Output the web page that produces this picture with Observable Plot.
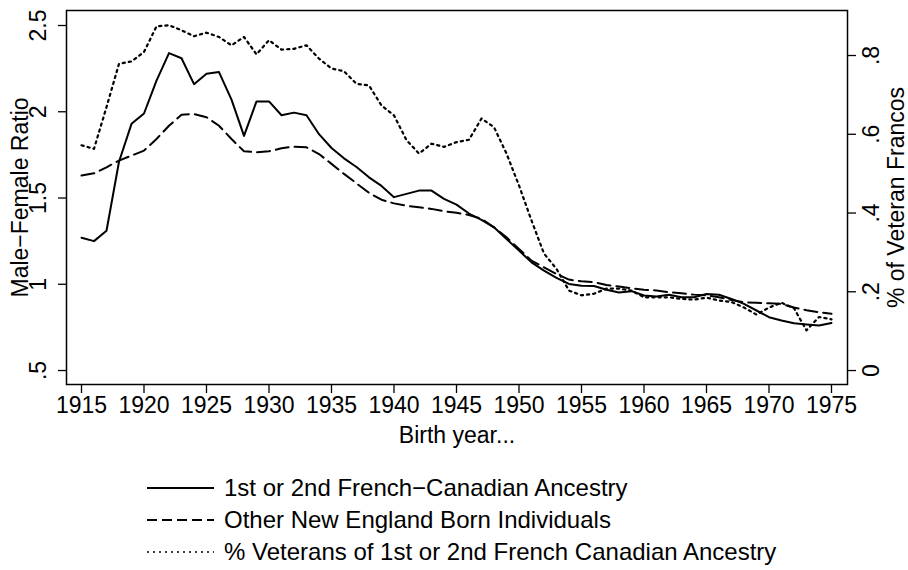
<!DOCTYPE html>
<html><head><meta charset="utf-8">
<script src="https://cdn.jsdelivr.net/npm/d3@7"></script>
<script src="https://cdn.jsdelivr.net/npm/@observablehq/plot@0.6"></script>
<style>
body{margin:0;background:#fff;font-family:"Liberation Sans",Arial,Helvetica,sans-serif;color:#000;}
#legend{position:relative;width:908px;height:118px;}
.row{position:absolute;left:147px;height:32px;display:flex;align-items:center;font-size:24px;white-space:nowrap;}
.row svg{margin-right:10px;display:block}
</style></head><body>
<div id="chart"></div><div id="legend"></div>
<script>
const years=[1915,1916,1917,1918,1919,1920,1921,1922,1923,1924,1925,1926,1927,1928,1929,1930,1931,1932,1933,1934,1935,1936,1937,1938,1939,1940,1941,1942,1943,1944,1945,1946,1947,1948,1949,1950,1951,1952,1953,1954,1955,1956,1957,1958,1959,1960,1961,1962,1963,1964,1965,1966,1967,1968,1969,1970,1971,1972,1973,1974,1975];
const fcRatio=[1.27,1.25,1.31,1.71,1.93,1.99,2.18,2.34,2.31,2.16,2.22,2.23,2.07,1.86,2.06,2.06,1.98,1.995,1.98,1.87,1.79,1.73,1.68,1.62,1.57,1.505,1.524,1.543,1.543,1.495,1.462,1.41,1.373,1.33,1.263,1.195,1.127,1.079,1.037,1.002,0.992,0.99,0.968,0.952,0.96,0.935,0.929,0.939,0.925,0.925,0.944,0.939,0.915,0.886,0.848,0.809,0.79,0.774,0.767,0.761,0.776];
const otherRatio=[1.63,1.643,1.678,1.717,1.746,1.775,1.842,1.919,1.983,1.987,1.968,1.919,1.842,1.771,1.765,1.771,1.788,1.798,1.794,1.755,1.698,1.64,1.585,1.53,1.49,1.469,1.455,1.446,1.437,1.423,1.414,1.402,1.379,1.33,1.272,1.205,1.137,1.098,1.06,1.027,1.017,1.012,0.996,0.987,0.977,0.968,0.964,0.954,0.948,0.94,0.935,0.925,0.909,0.896,0.893,0.89,0.886,0.865,0.85,0.838,0.829];
const vetPct=[0.572,0.563,0.669,0.779,0.785,0.809,0.874,0.877,0.864,0.849,0.858,0.847,0.826,0.847,0.803,0.839,0.815,0.817,0.826,0.792,0.767,0.76,0.728,0.724,0.673,0.648,0.585,0.551,0.576,0.568,0.58,0.586,0.64,0.618,0.551,0.47,0.381,0.297,0.258,0.203,0.191,0.195,0.208,0.208,0.203,0.186,0.186,0.186,0.182,0.18,0.185,0.178,0.174,0.16,0.142,0.16,0.172,0.158,0.102,0.136,0.13];
const xTicks=[1915,1920,1925,1930,1935,1940,1945,1950,1955,1960,1965,1970,1975];
const leftTicks=[0.5,1,1.5,2,2.5];
const leftTickLabels=[".5","1","1.5","2","2.5"];
const rightTicks=[0,0.2,0.4,0.6,0.8];
const rightTickLabels=["0",".2",".4",".6",".8"];
const seriesNames=["1st or 2nd French\u2212Canadian Ancestry","Other New England Born Individuals","% Veterans of 1st or 2nd French Canadian Ancestry"];
const xLabel="Birth year...";
const leftLabel="Male\u2212Female Ratio";
const rightLabel="% of Veteran Francos";

// right axis (% veterans) expressed in left-axis (ratio) units: 0 -> .5, .8 -> 2.326
const pctToRatio=p=>0.5+p*2.2826;

const fcData=years.map((y,i)=>({year:y,v:fcRatio[i]}));
const otherData=years.map((y,i)=>({year:y,v:otherRatio[i]}));
const vetData=years.map((y,i)=>({year:y,v:pctToRatio(vetPct[i])}));

const font='"Liberation Sans",Arial,Helvetica,sans-serif';
const chart=Plot.plot({
  width:908,height:452,
  marginLeft:66,marginRight:61,marginTop:10,marginBottom:68,
  style:{fontFamily:font,fontSize:"23px",color:"#000",background:"#fff",overflow:"visible"},
  x:{domain:[1913.8,1976.28]},
  y:{domain:[0.419,2.587]},
  marks:[
    Plot.axisX({ticks:xTicks,tickFormat:d=>String(d),tickSize:9,tickPadding:3,stroke:"#000",strokeWidth:1.3,label:xLabel,labelAnchor:"center",labelArrow:"none",labelOffset:58}),
    Plot.axisY({ticks:leftTicks,tickFormat:(d,i)=>leftTickLabels[i],tickSize:8,tickPadding:13,tickRotate:-90,stroke:"#000",strokeWidth:1.3,label:leftLabel,labelAnchor:"center",labelArrow:"none",labelOffset:55}),
    Plot.axisY({anchor:"right",ticks:rightTicks.map(pctToRatio),tickFormat:(d,i)=>rightTickLabels[i],tickSize:8,tickPadding:7,tickRotate:-90,lineAnchor:"top",stroke:"#000",strokeWidth:1.3,label:rightLabel,labelAnchor:"center",labelArrow:"none",labelOffset:56}),
    Plot.line(otherData,{x:"year",y:"v",stroke:"#000",strokeWidth:2,strokeDasharray:"13,6"}),
    Plot.line(vetData,{x:"year",y:"v",stroke:"#000",strokeWidth:2.2,strokeDasharray:"2.2,4"}),
    Plot.line(fcData,{x:"year",y:"v",stroke:"#000",strokeWidth:2}),
    Plot.frame({stroke:"#000",strokeWidth:1.5})
  ]
});
document.getElementById("chart").appendChild(chart);

const dashes=[null,"10,5","2,4"];
const lg=document.getElementById("legend");
seriesNames.forEach((name,i)=>{
  const row=document.createElement("div");
  row.className="row";
  row.style.top=(20+i*32)+"px";
  const ns="http://www.w3.org/2000/svg";
  const s=document.createElementNS(ns,"svg");
  s.setAttribute("width","67");s.setAttribute("height","32");
  const l=document.createElementNS(ns,"line");
  l.setAttribute("x1","0");l.setAttribute("x2","67");l.setAttribute("y1","16");l.setAttribute("y2","16");
  l.setAttribute("stroke","#000");l.setAttribute("stroke-width",i===2?"1.6":"2");
  if(dashes[i])l.setAttribute("stroke-dasharray",dashes[i]);
  s.appendChild(l);
  const t=document.createElement("span");
  t.textContent=name;
  row.appendChild(s);row.appendChild(t);
  lg.appendChild(row);
});
</script>
</body></html>
